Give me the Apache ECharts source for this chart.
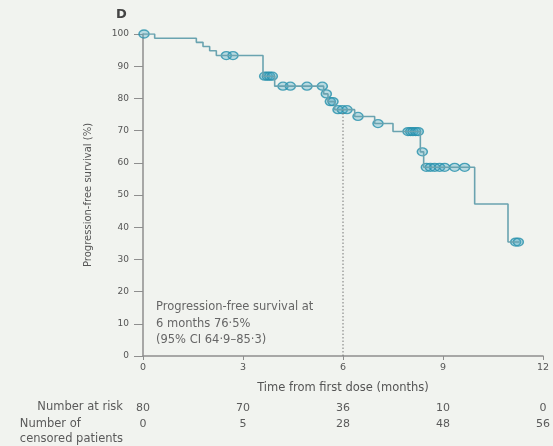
<!DOCTYPE html>
<html><head><meta charset="utf-8">
<script src="https://cdn.jsdelivr.net/npm/echarts@6/dist/echarts.min.js"></script>
<style>html,body{margin:0;padding:0;background:#f1f3ef;} #c{width:553px;height:446px;}</style>
</head><body><div id="c"></div>
<script>
// Kaplan-Meier curve: [months, survival % after event]
const kmCurve = [[0,100],[0.35,98.7],[1.6,97.4],[1.8,96.1],[2.0,94.8],[2.2,93.3],[3.6,86.9],[3.95,83.8],[5.42,81.4],[5.55,79.0],[5.75,76.5],[6.35,74.4],[6.95,72.2],[7.5,69.7],[8.32,63.4],[8.42,58.6],[9.95,47.2],[10.95,35.4],[11.3,35.4]];
// Censored patients: [months, survival %]
const censored = [[0.03,100],[2.5,93.3],[2.7,93.3],[3.65,86.9],[3.73,86.9],[3.8,86.9],[3.88,86.9],[4.2,83.8],[4.42,83.8],[4.92,83.8],[5.38,83.8],[5.5,81.4],[5.62,79.0],[5.7,79.0],[5.85,76.5],[5.98,76.5],[6.12,76.5],[6.45,74.4],[7.05,72.2],[7.95,69.7],[8.03,69.7],[8.1,69.7],[8.18,69.7],[8.26,69.7],[8.38,63.4],[8.5,58.6],[8.62,58.6],[8.75,58.6],[8.9,58.6],[9.05,58.6],[9.35,58.6],[9.65,58.6],[11.18,35.4],[11.26,35.4]];
const xTicks = [0,3,6,9,12];
const atRisk = [80,70,36,10,0];
const censoredCount = [0,5,28,48,56];
const refLine = [[6,0],[6,76.5]];

const FONT = 'DejaVu Sans';
const chart = echarts.init(document.getElementById('c'), null, {renderer:'canvas'});
function tableAxis(values, offset){
  return {type:'value', min:0, max:12, interval:3, position:'bottom', offset:offset,
    axisLine:{show:false}, axisTick:{show:false}, splitLine:{show:false},
    axisLabel:{fontFamily:FONT, fontSize:11, color:'#5a5a5a', margin:6,
      showMinLabel:true, showMaxLabel:true,
      formatter:v => String(values[xTicks.indexOf(v)])}};
}
chart.setOption({
  backgroundColor:'#f1f3ef',
  animation:false,
  grid:{left:143, right:10, top:34, bottom:90},
  xAxis:[{
    type:'value', min:0, max:12, interval:3,
    name:'Time from first dose (months)', nameLocation:'middle', nameGap:26,
    nameTextStyle:{fontFamily:FONT, fontSize:11.5, color:'#555'},
    axisLine:{lineStyle:{color:'#8e8e8e', width:1.5}},
    axisTick:{length:4, lineStyle:{color:'#8e8e8e'}},
    splitLine:{show:false},
    axisLabel:{fontFamily:FONT, fontSize:9.5, color:'#555', margin:7}
  }, tableAxis(atRisk,41), tableAxis(censoredCount,57)],
  yAxis:{
    type:'value', min:0, max:100, interval:10,
    name:'Progression-free survival (%)', nameLocation:'middle', nameGap:50,
    nameTextStyle:{fontFamily:FONT, fontSize:10, color:'#555'},
    axisLine:{show:true, lineStyle:{color:'#8e8e8e', width:1.5}},
    axisTick:{show:true, length:9, lineStyle:{color:'#8e8e8e'}},
    splitLine:{show:false},
    axisLabel:{fontFamily:FONT, fontSize:9, color:'#555', margin:14}
  },
  series:[
    {type:'line', data:refLine, symbol:'none', silent:true,
     lineStyle:{color:'#777', width:1, type:[1.5,2]}},
    {type:'line', step:'end', data:kmCurve, symbol:'none',
     lineStyle:{color:'#6aa3b0', width:1.6}},
    {type:'scatter', data:censored, symbol:'circle', symbolSize:[10,8],
     itemStyle:{color:'rgba(70,170,198,0.42)', borderColor:'#2690ab', borderWidth:1.4}}
  ],
  graphic:[
    {type:'text', left:116, top:8, style:{text:'D', font:'bold 13px '+FONT, fill:'#444'}},
    {type:'text', left:156, top:299, style:{text:'Progression-free survival at\n6 months 76·5%\n(95% CI 64·9–85·3)', font:'11.5px '+FONT, fill:'#666', lineHeight:16.5}},
    {type:'text', right:430, top:401, style:{text:'Number at risk', font:'11.5px '+FONT, fill:'#5a5a5a', align:'right'}},
    {type:'text', right:430, top:417, style:{text:'Number of\ncensored patients', font:'11.5px '+FONT, fill:'#5a5a5a', align:'right', lineHeight:15}}
  ]
});
</script></body></html>
